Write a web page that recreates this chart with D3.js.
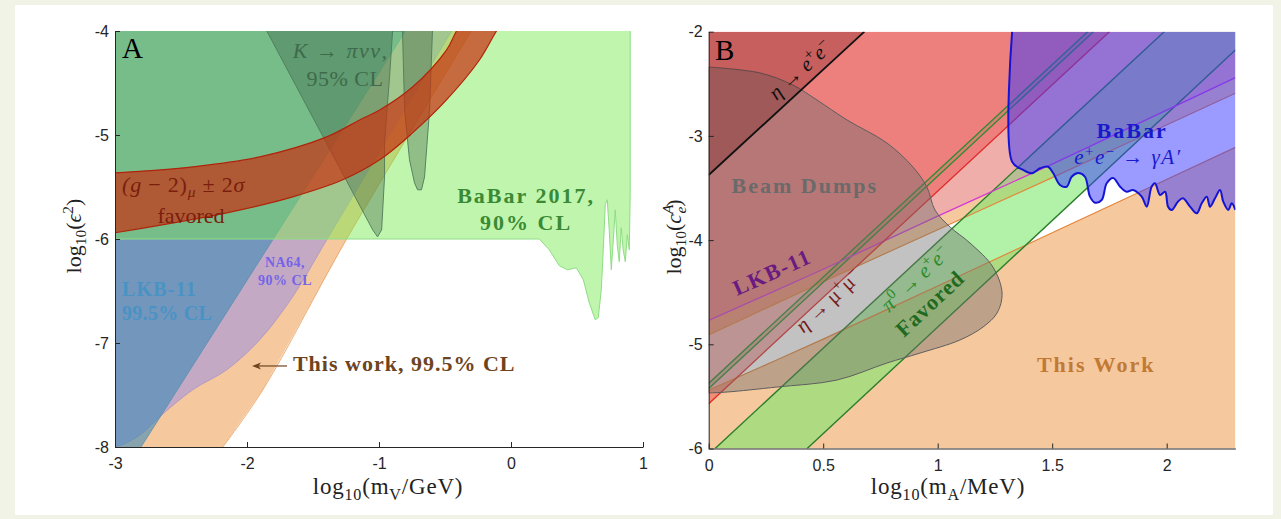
<!DOCTYPE html>
<html><head><meta charset="utf-8">
<script src="https://cdn.jsdelivr.net/npm/d3@7"></script>
<style>
html,body{margin:0;padding:0;background:#f0f3e5;}
svg{display:block;}
</style></head><body>
<svg id="chart" width="1281" height="519"></svg>
<script>
// ================= DATA =================
// Panel A : x = log10(mV/GeV), y = log10(eps^2)
const aXTicks = [-3, -2, -1, 0, 1];
const aYTicks = [-4, -5, -6, -7, -8];
const aThisWork = [[-2.183,-8],[-1.88,-7.45],[-1.245,-6.0],[-0.30,-4]];
const aNA64 = [[-3,-8.0],[-2.909,-7.958],[-2.788,-7.862],[-2.66,-7.708],[-2.41,-7.449],[-2.153,-7.257],[-1.903,-6.968],[-1.654,-6.555],[-1.396,-6.008],[-0.45,-4]];
const aLKB = [[-2.803,-8],[-0.799,-4]];
const aBaBarLower = [[-3,-6.0],[0.215,-6.0],[0.29,-6.104],[0.366,-6.257],[0.427,-6.296],[0.495,-6.277],[0.548,-6.392],[0.593,-6.613],[0.638,-6.776],[0.661,-6.757],[0.684,-6.488],[0.699,-6.104],[0.714,-5.671],[0.729,-5.623],[0.744,-5.911],[0.76,-6.296],[0.775,-6.008],[0.79,-5.72],[0.805,-6.056],[0.82,-6.219],[0.835,-5.892],[0.85,-6.104],[0.866,-6.219],[0.881,-5.96],[0.896,-6.104],[0.903,-5.575],[0.903,-4]];
const aKpinunu = [[-1.85,-4],[-1.048,-5.912],[-1.011,-5.979],[-0.98,-5.912],[-0.958,-5.403],[-0.958,-5.076],[-0.92,-4.442],[-0.897,-4],[-0.822,-4],[-0.806,-4.759],[-0.769,-5.239],[-0.731,-5.46],[-0.708,-5.527],[-0.678,-5.527],[-0.655,-5.403],[-0.617,-4.759],[-0.595,-4]];
const aG2Upper = [[-3,-5.364],[-2.41,-5.306],[-1.903,-5.21],[-1.396,-5.018],[-1.147,-4.855],[-0.995,-4.759],[-0.746,-4.538],[-0.489,-4.183],[-0.413,-4.0],[-0.34,-3.85]];
const aG2Lower = [[-3,-5.94],[-2.153,-5.748],[-1.654,-5.595],[-1.275,-5.431],[-0.995,-5.239],[-0.746,-4.98],[-0.489,-4.663],[-0.239,-4.279],[-0.11,-4.0],[-0.03,-3.85]];

// Panel B : x = log10(mA/MeV), y = log10(c_e^A)
const bXTicks = [0, 0.5, 1, 1.5, 2];
const bYTicks = [-2, -3, -4, -5, -6];
const bThisWorkUpper = [[0,-4.91],[0.5,-4.40],[1.0,-3.90],[1.5,-3.40],[2.3,-2.59]];
const bThisWorkLower = [[0,-5.44],[0.5,-4.95],[1.0,-4.44],[1.5,-3.93],[2.3,-3.11]];
const bPi0Upper = [[0.028,-6],[1.989,-2]];
const bPi0Lower = [[0.43,-6],[2.3,-2.176]];
const bNarrowUpper = [[0,-5.375],[1.655,-2]];
const bNarrowLower = [[0,-5.425],[1.68,-2]];
const bLKB = [[0,-4.77],[0.5,-4.28],[1.0,-3.77],[1.5,-3.27],[2.3,-2.44]];
const bEtaMuMu = [[0,-5.57],[1.75,-2]];
const bEtaEE = [[0,-3.375],[0.68,-2]];
const bBeamDump = [[0,-2.339],[0.224,-2.396],[0.368,-2.512],[0.473,-2.656],[0.604,-2.847],[0.778,-3.068],[0.892,-3.299],[0.953,-3.491],[0.988,-3.711],[1.054,-3.874],[1.141,-4.028],[1.241,-4.258],[1.281,-4.508],[1.259,-4.70],[1.198,-4.834],[1.097,-4.959],[0.923,-5.084],[0.778,-5.18],[0.56,-5.343],[0.298,-5.41],[0.08,-5.458],[0,-5.467]];
const bBaBarLower = [[1.325,-2],[1.325,-3.248],[1.373,-3.327],[1.41,-3.359],[1.447,-3.311],[1.482,-3.296],[1.504,-3.356],[1.534,-3.471],[1.563,-3.488],[1.585,-3.392],[1.613,-3.356],[1.643,-3.392],[1.665,-3.583],[1.687,-3.641],[1.716,-3.615],[1.738,-3.455],[1.766,-3.404],[1.797,-3.488],[1.825,-3.536],[1.853,-3.519],[1.891,-3.583],[1.913,-3.679],[1.934,-3.488],[1.949,-3.455],[1.971,-3.567],[1.993,-3.536],[2.006,-3.679],[2.022,-3.711],[2.049,-3.631],[2.071,-3.599],[2.102,-3.679],[2.131,-3.743],[2.153,-3.647],[2.175,-3.583],[2.189,-3.679],[2.211,-3.599],[2.233,-3.519],[2.247,-3.631],[2.269,-3.711],[2.284,-3.647],[2.3,-3.711]];

// ================= DRAWING =================
const SERIF = "'Liberation Serif','DejaVu Serif','Times New Roman',serif";
const SANS = "'Liberation Sans',Arial,Helvetica,sans-serif";
const svg = d3.select('#chart');
svg.append('rect').attr('x',15).attr('y',5).attr('width',1258).attr('height',510).attr('fill','#ffffff');
const defs = svg.append('defs');
function clip(id,x0,y0,x1,y1){
  defs.append('clipPath').attr('id',id).append('rect')
    .attr('x',x0).attr('y',y0).attr('width',x1-x0).attr('height',y1-y0);
}
// join several point lists (each drawn through the given line generator) into one closed polygon
function joinPaths(line, segs){
  const xs = line.x(), ys = line.y();
  return segs.map((s,i)=>{
    if (s.length===1) return (i===0?'M':'L') + xs(s[0]) + ',' + ys(s[0]);
    const p = line(s);
    return i===0 ? p : 'L'+p.slice(1);
  }).join('')+'Z';
}
function fillPath(g,d,color,op){ return g.append('path').attr('d',d).attr('fill',color).attr('fill-opacity',op).attr('stroke','none'); }
function strokePath(g,d,color,w){ return g.append('path').attr('d',d).attr('fill','none').attr('stroke',color).attr('stroke-width',w).attr('stroke-linejoin','round'); }

function rich(g, x, y, parts, o){
  const fs = o.size;
  const t = g.append('text').attr('x',x).attr('y',y)
    .attr('font-family', o.family||SERIF).attr('font-size',fs)
    .attr('fill',o.color||'#000').attr('text-anchor',o.anchor||'start')
    .attr('font-weight',o.weight||'normal');
  if (o.ls) t.attr('letter-spacing', o.ls);
  if (o.rotate!=null) t.attr('transform',`rotate(${o.rotate},${x},${y})`);
  let cur = 0;
  parts.forEach(p=>{
    const [txt, mode, ital, dx] = p;
    const off = mode==='sub' ? fs*0.24 : mode==='sup' ? -fs*0.38 : 0;
    const ts = t.append('tspan').text(txt).attr('dy', off-cur).attr('font-size', mode? fs*0.7: fs);
    if (ital) ts.attr('font-style','italic');
    if (dx) ts.attr('dx',dx);
    cur = off;
  });
  if (cur!==0) t.append('tspan').text('').attr('dy',-cur);
  return t;
}
function styleAxis(g){
  g.select('.domain').attr('stroke','#262626').attr('stroke-width',1);
  g.selectAll('.tick line').attr('stroke','#262626');
  g.selectAll('.tick text').attr('font-family',SANS).attr('font-size',16).attr('fill','#262626');
}

// ---------- Panel A ----------
const xA = d3.scaleLinear().domain([-3,1]).range([115,643]);
const yA = d3.scaleLinear().domain([-8,-4]).range([447,31]);
clip('clipA', xA(-3), yA(-4), xA(1), yA(-8));
const gA = svg.append('g').attr('clip-path','url(#clipA)');
const linA = d3.line().x(d=>xA(d[0])).y(d=>yA(d[1]));
const smA = d3.line().x(d=>xA(d[0])).y(d=>yA(d[1])).curve(d3.curveCatmullRom.alpha(0.5));

// This work (orange)
fillPath(gA, joinPaths(linA,[[[-3,-8]], aThisWork, [[-3,-4]]]), '#f6c89e', 1);
strokePath(gA, smA(aThisWork), '#eaa566', 0.9);
// NA64
fillPath(gA, joinPaths(smA,[aNA64, [[-3,-4]]]), '#7b7bff', 0.4);
strokePath(gA, smA(aNA64), '#a894c4', 0.8);
// LKB-11
fillPath(gA, joinPaths(linA,[[[-3,-8]], aLKB, [[-3,-4]]]), '#3d8ab8', 0.6);
strokePath(gA, linA(aLKB), '#5b8fae', 0.8);
// BaBar 2017
fillPath(gA, joinPaths(linA,[aBaBarLower, [[-3,-4]]]), '#7aea50', 0.47);
strokePath(gA, linA(aBaBarLower), '#8fdc85', 1);
// K -> pi nu nu
fillPath(gA, joinPaths(linA,[aKpinunu]), '#3a5a40', 0.35);
strokePath(gA, linA(aKpinunu), '#4e7a58', 0.9);
// (g-2)_mu band
const g2d = joinPaths(smA,[aG2Upper, aG2Lower.slice().reverse()]);
fillPath(gA, g2d, '#c83010', 0.7);
strokePath(gA, g2d, '#b0240c', 1.2);

// axes A
const axAx = svg.append('g').attr('transform',`translate(0,${yA(-8)})`)
  .call(d3.axisBottom(xA).tickValues(aXTicks).tickSizeInner(-5).tickSizeOuter(0).tickPadding(11).tickFormat(d=>String(d)));
styleAxis(axAx);
const axAy = svg.append('g').attr('transform',`translate(${xA(-3)},0)`)
  .call(d3.axisLeft(yA).tickValues(aYTicks).tickSizeInner(-5).tickSizeOuter(0).tickPadding(6).tickFormat(d=>String(d)));
styleAxis(axAy);

// labels A
const tA = svg.append('g');
rich(tA, xA(-2.947), yA(-4.26), [['A']], {size:29});
rich(tA, xA(-1.29), yA(-4.26), [['K → πνν,','',true]], {size:22, color:'#3f6a4b', anchor:'middle', ls:1.5});
rich(tA, xA(-1.258), yA(-4.53), [['95% CL']], {size:22, color:'#3f6a4b', anchor:'middle', ls:0.5});
rich(tA, xA(-2.947), yA(-5.545), [['(','',true],['g','',true],[' − 2)'],['μ','sub',true],[' ± 2'],['σ','',true]], {size:22, color:'#7a1e0e', ls:0.8});
rich(tA, xA(-2.424), yA(-5.845), [['favored']], {size:22, color:'#7a1e0e', anchor:'middle'});
rich(tA, xA(0.114), yA(-5.654), [['BaBar 2017,']], {size:22, color:'#3a8a35', weight:'bold', anchor:'middle', ls:2});
rich(tA, xA(0.114), yA(-5.913), [['90% CL']], {size:22, color:'#3a8a35', weight:'bold', anchor:'middle', ls:2});
rich(tA, xA(-2.947), yA(-6.548), [['LKB-11']], {size:20, color:'#4993c4', weight:'bold', ls:1.2});
rich(tA, xA(-2.947), yA(-6.779), [['99.5% CL']], {size:20, color:'#4993c4', weight:'bold', ls:0.3});
rich(tA, xA(-1.712), yA(-6.269), [['NA64,']], {size:14, color:'#7464e6', weight:'bold', anchor:'middle', ls:0.5});
rich(tA, xA(-1.712), yA(-6.442), [['90% CL']], {size:14, color:'#7464e6', weight:'bold', anchor:'middle', ls:0.5});
// arrow
const arY = yA(-7.221);
tA.append('line').attr('x1',xA(-1.697)).attr('x2',xA(-1.962)+6).attr('y1',arY).attr('y2',arY).attr('stroke','#6e4420').attr('stroke-width',1.2);
tA.append('path').attr('d',`M${xA(-1.962)},${arY}l9,-3.5l-2.5,3.5l2.5,3.5z`).attr('fill','#6e4420');
rich(tA, xA(-1.652), yA(-7.269), [['This work, 99.5% CL']], {size:22, color:'#6e4420', weight:'bold', ls:1});
// axis titles A
rich(tA, 388, 494, [['log'],['10','sub'],['(m'],['V','sub'],['/GeV)']], {size:23, color:'#222', anchor:'middle', ls:0.8});
rich(tA, 81, 236, [['log'],['10','sub'],['('],['ϵ','',true],['2','sup'],[')']], {size:22, color:'#222', anchor:'middle', rotate:-90});

// ---------- Panel B ----------
const xB = d3.scaleLinear().domain([0,2.3]).range([708.7,1235.4]);
const yB = d3.scaleLinear().domain([-6,-2]).range([448.5,31.7]);
clip('clipB', xB(0), yB(-2), xB(2.3), yB(-6));
const gB = svg.append('g').attr('clip-path','url(#clipB)');
const linB = d3.line().x(d=>xB(d[0])).y(d=>yB(d[1]));
const smB = d3.line().x(d=>xB(d[0])).y(d=>yB(d[1])).curve(d3.curveCatmullRom.alpha(0.5));

// This Work (orange, both sides of the allowed band)
fillPath(gB, joinPaths(smB,[bThisWorkUpper,[[2.3,-2]],[[0,-2]]]), '#f6c89e', 1);
fillPath(gB, joinPaths(smB,[bThisWorkLower,[[2.3,-6]],[[0,-6]]]), '#f6c89e', 1);
// pi0 -> ee favored band
fillPath(gB, joinPaths(linB,[bPi0Upper,[[2.3,-2]],bPi0Lower.slice().reverse()]), '#7ee86e', 0.6);
// narrow green band
fillPath(gB, joinPaths(linB,[bNarrowUpper, bNarrowLower.slice().reverse()]), '#6ad06a', 0.35);
// LKB-11
fillPath(gB, joinPaths(smB,[bLKB,[[2.3,-2]],[[0,-2]]]), '#e060d0', 0.25);
// eta -> mu mu
fillPath(gB, joinPaths(linB,[bEtaMuMu,[[0,-2]]]), '#e83a3a', 0.4);
// boundary lines
strokePath(gB, smB(bThisWorkUpper), '#e3863a', 1.2);
strokePath(gB, smB(bThisWorkLower), '#e3863a', 1.2);
strokePath(gB, linB(bPi0Upper), '#2a7d2a', 1.4);
strokePath(gB, linB(bPi0Lower), '#2a7d2a', 1.4);
strokePath(gB, linB(bNarrowUpper), '#2e8b2e', 1.4);
strokePath(gB, linB(bNarrowLower), '#2e8b2e', 1.4);
strokePath(gB, smB(bLKB), '#d33ad3', 1.3);
strokePath(gB, linB(bEtaMuMu), '#e02a2a', 1.3);
// beam dumps
const bdd = smB(bBeamDump)+'Z';
fillPath(gB, bdd, '#6e6e6e', 0.42);
strokePath(gB, bdd, '#5e5e5e', 1);
// eta -> e e
fillPath(gB, joinPaths(linB,[bEtaEE,[[0,-2]]]), '#601010', 0.28);
strokePath(gB, linB(bEtaEE), '#111111', 1.8);
// BaBar
fillPath(gB, joinPaths(smB,[bBaBarLower,[[2.3,-2]]]), '#3838ff', 0.5);
strokePath(gB, smB(bBaBarLower), '#1414d4', 2);

// axes B
const axBx = svg.append('g').attr('transform',`translate(0,${yB(-6)})`)
  .call(d3.axisBottom(xB).tickValues(bXTicks).tickSizeInner(-5).tickSizeOuter(0).tickPadding(11).tickFormat(d=>String(d)));
styleAxis(axBx);
const axBy = svg.append('g').attr('transform',`translate(${xB(0)},0)`)
  .call(d3.axisLeft(yB).tickValues(bYTicks).tickSizeInner(-5).tickSizeOuter(0).tickPadding(6).tickFormat(d=>String(d)));
styleAxis(axBy);

// labels B
const tB = svg.append('g');
rich(tB, xB(0.028), yB(-2.272), [['B']], {size:29});
rich(tB, xB(0.42), yB(-2.416), [['η','',true],[' → '],['e','',true],['+','sup'],['e','',true],['−','sup']], {size:21, color:'#111', anchor:'middle', rotate:-42.5});
rich(tB, xB(0.42), yB(-3.548), [['Beam Dumps']], {size:22, color:'#6a6a6a', weight:'bold', anchor:'middle', ls:2});
rich(tB, xB(0.29), yB(-4.306)+7, [['LKB-11']], {size:22, color:'#6a1a80', weight:'bold', anchor:'middle', rotate:-24, ls:1.5});
rich(tB, xB(0.543), yB(-4.575)+6, [['η','',true],[' → '],['μ'],['+','sup'],['μ'],['−','sup']], {size:21, color:'#7a1a1a', anchor:'middle', rotate:-43});
rich(tB, xB(0.923), yB(-4.364)+6, [['π','',true],['0','sup'],[' → '],['e','',true],['+','sup'],['e','',true],['−','sup']], {size:21, color:'#2a8a2a', anchor:'middle', rotate:-43});
rich(tB, xB(0.988), yB(-4.594)+7, [['Favored']], {size:22, color:'#1f6a1f', weight:'bold', anchor:'middle', rotate:-43, ls:1});
rich(tB, xB(1.849), yB(-3.02), [['BaBar']], {size:22, color:'#1a1acc', weight:'bold', anchor:'middle', ls:2});
rich(tB, xB(1.831), yB(-3.27), [['e','',true],['+','sup'],['e','',true],['−','sup'],[' → '],['γA′','',true]], {size:21, color:'#1a1acc', anchor:'middle', ls:1.5});
rich(tB, xB(1.692), yB(-5.267), [['This Work']], {size:22, color:'#c07a35', weight:'bold', anchor:'middle', ls:2});
// axis titles B
rich(tB, 948, 494, [['log'],['10','sub'],['(m'],['A','sub'],['/MeV)']], {size:23, color:'#222', anchor:'middle', ls:0.8});
rich(tB, 681, 237, [['log'],['10','sub'],['('],['c','',true],['A','sup',true],['e','sub',true,-9],[')']], {size:22, color:'#222', anchor:'middle', rotate:-90});
</script>
</body></html>
